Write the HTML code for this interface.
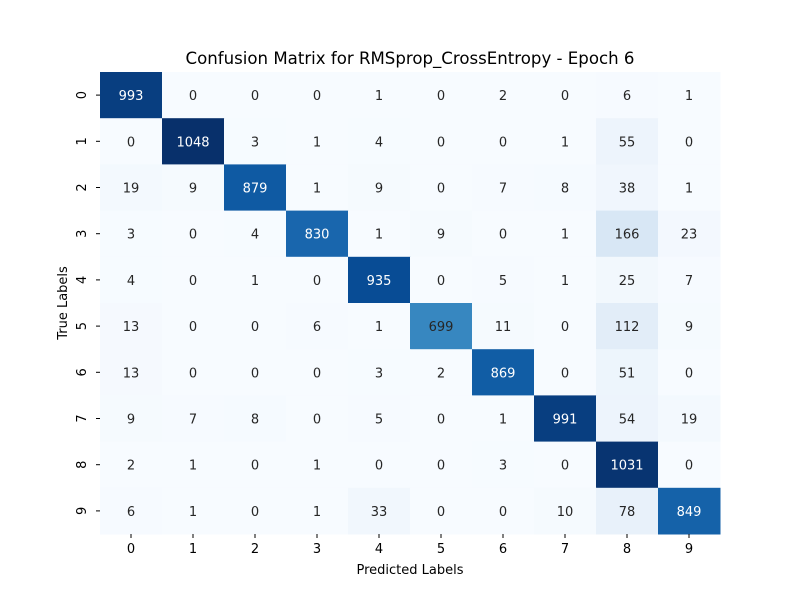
<!DOCTYPE html>
<html><head><meta charset="utf-8"><style>
body{margin:0;background:#fff;font-family:"Liberation Sans","DejaVu Sans",sans-serif}
svg text{font-family:"DejaVu Sans","Liberation Sans",sans-serif}
</style></head><body>
<svg id="chart" width="800" height="600" xmlns="http://www.w3.org/2000/svg">
<rect width="800" height="600" fill="#fff"/>
<text x="410" y="64" font-size="16.6" text-anchor="middle">Confusion Matrix for RMSprop_CrossEntropy - Epoch 6</text>
<text x="410" y="574" font-size="13" text-anchor="middle">Predicted Labels</text>
<text x="0" y="0" font-size="13" text-anchor="middle" transform="translate(67,303) rotate(-90)">True Labels</text>
<g id="cells"></g>
</svg>
<script>
const xLabels=["0","1","2","3","4","5","6","7","8","9"];
const yLabels=["0","1","2","3","4","5","6","7","8","9"];
const matrix=[
[993,0,0,0,1,0,2,0,6,1],
[0,1048,3,1,4,0,0,1,55,0],
[19,9,879,1,9,0,7,8,38,1],
[3,0,4,830,1,9,0,1,166,23],
[4,0,1,0,935,0,5,1,25,7],
[13,0,0,6,1,699,11,0,112,9],
[13,0,0,0,3,2,869,0,51,0],
[9,7,8,0,5,0,1,991,54,19],
[2,1,0,1,0,0,3,0,1031,0],
[6,1,0,1,33,0,0,10,78,849]];
const L=100,T=72,W=620,H=462;
const cw=W/xLabels.length,ch=H/yLabels.length;
const xPos=i=>L+i*cw, yPos=j=>T+j*ch;
const vmax=Math.max(...matrix.flat());
const stops=[[247,251,255],[222,235,247],[198,219,239],[158,202,225],[107,174,214],[66,146,198],[33,113,181],[8,81,156],[8,48,107]];
function blues(t){t=Math.max(0,Math.min(1,t))*8;const i=Math.min(7,Math.floor(t)),f=t-i;
return stops[i].map((c,k)=>Math.round(c+(stops[i+1][k]-c)*f));}
const NS="http://www.w3.org/2000/svg";
const svg=document.getElementById('chart');
const g=document.getElementById('cells');
matrix.forEach((row,j)=>row.forEach((v,i)=>{
 const c=blues(v/vmax);
 const r=document.createElementNS(NS,'rect');
 
 
 r.setAttribute('x',xPos(i));r.setAttribute('y',yPos(j));
 r.setAttribute('width',cw+0.5);r.setAttribute('height',ch+0.5);
 r.setAttribute('fill',`rgb(${c})`);g.appendChild(r);
 const lum=(0.2126*c[0]+0.7152*c[1]+0.0722*c[2])/255;
 const t=document.createElementNS(NS,'text');
 
 
 t.setAttribute('x',xPos(i)+cw/2);t.setAttribute('y',yPos(j)+ch/2+5);
 t.setAttribute('font-size','13');t.setAttribute('text-anchor','middle');
 t.setAttribute('fill',lum>0.45?'#262626':'#ffffff');
 t.textContent=v;g.appendChild(t);
}));
xLabels.forEach((s,i)=>{
 const x=xPos(i)+cw/2;
 const tk=document.createElementNS(NS,'line');
 
 
 tk.setAttribute('x1',x);tk.setAttribute('x2',x);tk.setAttribute('y1',T+H);tk.setAttribute('y2',T+H+4);
 tk.setAttribute('stroke','#000');svg.appendChild(tk);
 const t=document.createElementNS(NS,'text');
 
 
 t.setAttribute('x',x);t.setAttribute('y',T+H+19);t.setAttribute('font-size','13');t.setAttribute('text-anchor','middle');
 t.textContent=s;svg.appendChild(t);
});
yLabels.forEach((s,j)=>{
 const y=yPos(j)+ch/2;
 const tk=document.createElementNS(NS,'line');
 
 
 tk.setAttribute('x1',L-4);tk.setAttribute('x2',L);tk.setAttribute('y1',y);tk.setAttribute('y2',y);
 tk.setAttribute('stroke','#000');svg.appendChild(tk);
 const t=document.createElementNS(NS,'text');
 
 
 t.setAttribute('font-size','13');t.setAttribute('text-anchor','middle');
 t.setAttribute('transform',`translate(${L-14},${y}) rotate(-90)`);
 t.textContent=s;svg.appendChild(t);
});
</script>
</body></html>
